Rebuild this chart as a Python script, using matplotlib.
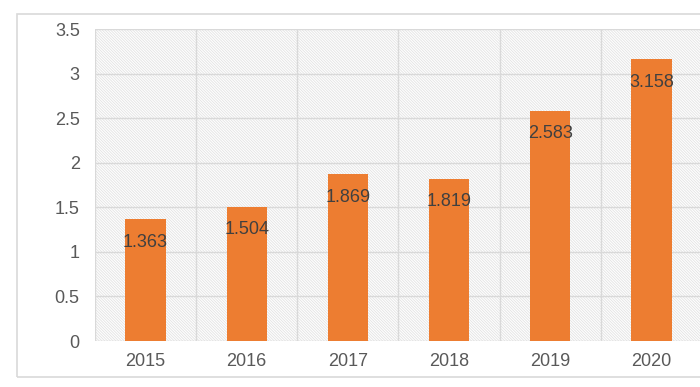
import matplotlib.pyplot as plt
from matplotlib.patches import Rectangle

years = ['2015', '2016', '2017', '2018', '2019', '2020']
values = [1.363, 1.504, 1.869, 1.819, 2.583, 3.158]
yticks = [0, 0.5, 1, 1.5, 2, 2.5, 3, 3.5]
ytick_labels = ['0', '0.5', '1', '1.5', '2', '2.5', '3', '3.5']

plt.rcParams['font.family'] = ['Liberation Sans', 'DejaVu Sans']
plt.rcParams['hatch.color'] = '#e2e2e2'
plt.rcParams['hatch.linewidth'] = 0.6

fig = plt.figure(figsize=(7, 3.87), dpi=100)
# outer chart border
fig.patches.append(Rectangle((17/700, 10/387), 1.0, 363/387, transform=fig.transFigure,
                             fill=False, edgecolor='#d9d9d9', linewidth=1.2))

ax = fig.add_axes([95/700, 46/387, 607/700, 312/387])
x = list(range(len(years)))

# hatched plot background
ax.add_patch(Rectangle((0, 0), 1, 1, transform=ax.transAxes, facecolor='white',
                       hatch='\\' * 12, edgecolor='#e2e2e2', linewidth=0, zorder=0))

for xv in [i - 0.5 for i in range(len(years) + 1)]:
    ax.axvline(xv, color='#d9d9d9', linewidth=1, zorder=1)
for yv in yticks:
    ax.axhline(yv, color='#d9d9d9', linewidth=1, zorder=1)

bars = ax.bar(x, values, width=0.4, color='#ed7d31', zorder=2)
for xi, v in zip(x, values):
    ax.annotate(str(v), (xi, v), xytext=(0, -16.5), textcoords='offset points',
                ha='center', va='center', fontsize=13, color='#404040', zorder=3)

ax.set_xlim(-0.5, len(years) - 0.5)
ax.set_ylim(0, 3.5)
ax.set_xticks(x)
ax.set_xticklabels(years)
ax.set_yticks(yticks)
ax.set_yticklabels(ytick_labels)
ax.tick_params(axis='both', length=0, labelsize=13, labelcolor='#595959')
ax.tick_params(axis='y', pad=11)
ax.tick_params(axis='x', pad=9)
for s in ax.spines.values():
    s.set_visible(False)

fig.savefig('out.png', dpi=100)
